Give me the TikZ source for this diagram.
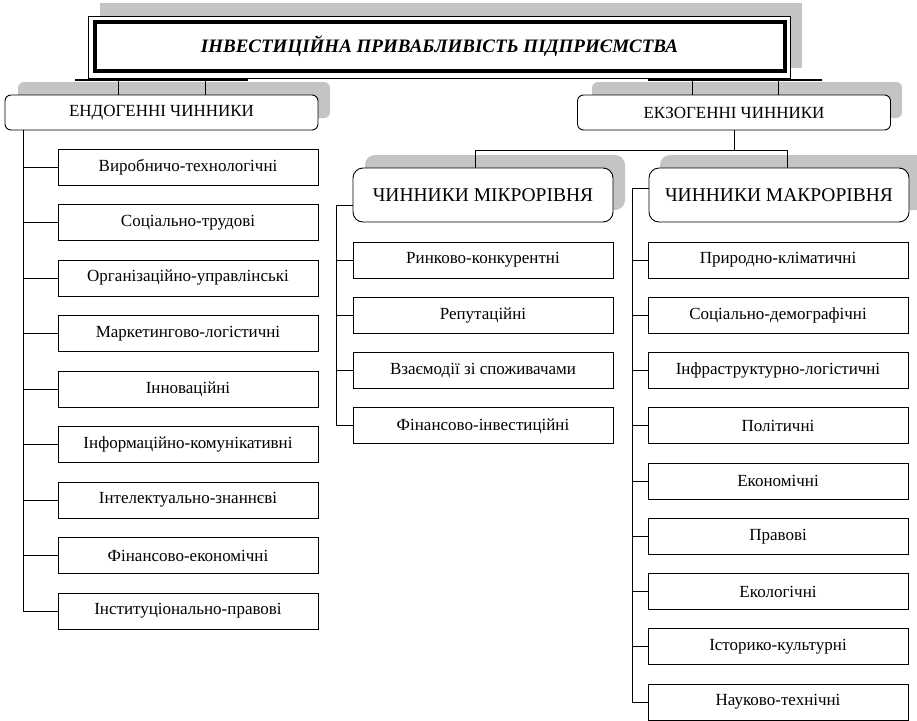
\documentclass[tikz,border=0pt]{standalone}
\usepackage{fontspec}
\setmainfont{Liberation Serif}
\usetikzlibrary{positioning, calc}

\tikzset{
  leaf/.style={draw, rectangle, fill=white, minimum width=260pt, minimum height=36pt, inner sep=0pt, font=\fontsize{17}{20}\selectfont},
  grp/.style={draw, fill=white, rounded corners=6pt, minimum width=313pt, minimum height=35pt, inner sep=0pt, font=\fontsize{17}{20}\selectfont},
  lvl/.style={draw, fill=white, rounded corners=10pt, minimum width=260pt, minimum height=54pt, inner sep=0pt, font=\fontsize{19.5}{22}\selectfont},
  shade/.style={fill=black!23, rounded corners=6pt},
  link/.style={line width=1pt}
}

\begin{document}
\begin{tikzpicture}[x=1pt,y=-1pt,line width=0.9pt]
\useasboundingbox (0,0) rectangle (917,720);
\clip (0,0) rectangle (917,720);

% title
\fill[black!23] (100,3) rectangle (802,68);
\node[draw, fill=white, minimum width=702pt, minimum height=62pt] (title) at (439,47) {};
\node[draw, line width=4pt, minimum width=690pt, minimum height=49pt, inner sep=0pt, font=\fontsize{19}{22}\selectfont\bfseries\itshape] (head) at (439.5,46) {ІНВЕСТИЦІЙНА ПРИВАБЛИВІСТЬ ПІДПРИЄМСТВА};

% endogenous / exogenous
\fill[shade] (18,82) rectangle (330,118);
\fill[shade] (592,82) rectangle (902,118);
\node[grp] (endo) at (161.5,112.5) {ЕНДОГЕННІ ЧИННИКИ};
\node[grp] (exo) at (734,112.5) {ЕКЗОГЕННІ ЧИННИКИ};

\coordinate (ta) at (75,80);
\coordinate (tb) at (248,80);
\coordinate (tc) at (648,80);
\coordinate (td) at (822,80);
\draw[line width=1.6pt] (ta) -- (tb);
\draw[line width=1.6pt] (tc) -- (td);
\coordinate (ea) at (118,80);
\coordinate (eb) at (205,80);
\coordinate (xa) at (692,80);
\coordinate (xb) at (778,80);
\draw (ea) -- (endo.north -| ea);
\draw (eb) -- (endo.north -| eb);
\draw (xa) -- (exo.north -| xa);
\draw (xb) -- (exo.north -| xb);

% micro / macro
\fill[shade, rounded corners=10pt] (365,155) rectangle (625,210);
\fill[shade, rounded corners=10pt] (660,155) rectangle (930,210);
\node[lvl] (micro) at (483,195) {ЧИННИКИ МІКРОРІВНЯ};
\node[lvl] (macro) at (779,195) {ЧИННИКИ МАКРОРІВНЯ};

\coordinate (xm) at (734,150);
\coordinate (mi) at (475,150);
\coordinate (ma) at (787,150);
\draw (exo.south) -- (xm);
\draw (mi) -- (ma);
\draw (mi) -- (micro.north -| mi);
\draw (ma) -- (macro.north -| ma);

% lists
\foreach [count=\i] \t in {Виробничо-технологічні, Соціально-трудові, Організаційно-управлінські, Маркетингово-логістичні, Інноваційні, Інформаційно-комунікативні, Інтелектуально-знаннєві, Фінансово-економічні, Інституціонально-правові}
  \node[leaf] (l\i) at (188,{167+55.5*(\i-1)}) {\t};
\foreach [count=\i] \t in {Ринково-конкурентні, Репутаційні, Взаємодії зі споживачами, Фінансово-інвестиційні}
  \node[leaf] (m\i) at (483,{260+55.3*(\i-1)}) {\t};
\foreach [count=\i] \t in {Природно-кліматичні, Соціально-демографічні, Інфраструктурно-логістичні, Політичні, Економічні, Правові, Екологічні, Історико-культурні, Науково-технічні}
  \node[leaf] (r\i) at (778,{260+55.25*(\i-1)}) {\t};

% spines
\coordinate (ls) at (23,0);
\coordinate (ms) at (336,205);
\coordinate (rs) at (632,188);
\draw (endo.south -| ls) -- (l9.west -| ls);
\foreach \i in {1,...,9}
  \draw (l\i.west) -- (l\i.west -| ls);
\draw (ms) -- (micro.west |- ms);
\draw (ms) -- (m4.west -| ms);
\foreach \i in {1,...,4}
  \draw (m\i.west) -- (m\i.west -| ms);
\draw (rs) -- (macro.west |- rs);
\draw (rs) -- (r9.west -| rs);
\foreach \i in {1,...,9}
  \draw (r\i.west) -- (r\i.west -| rs);
\end{tikzpicture}
\end{document}
